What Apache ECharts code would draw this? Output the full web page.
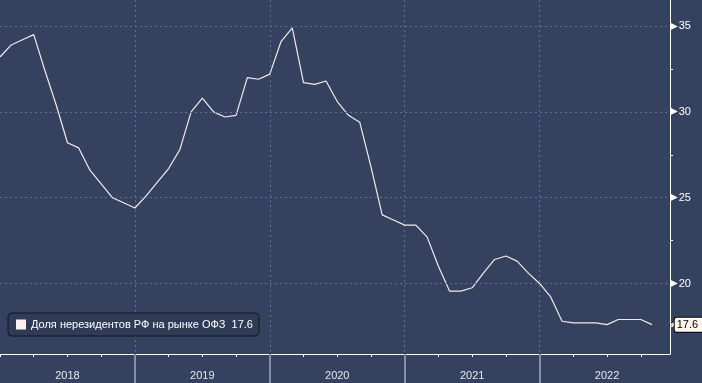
<!DOCTYPE html>
<html>
<head>
<meta charset="utf-8">
<script src="https://cdn.jsdelivr.net/npm/echarts@6/dist/echarts.min.js"></script>
<style>
html,body{margin:0;padding:0;background:#34425f;}
#c{width:702px;height:383px;}
</style>
</head>
<body>
<div id="c"></div>
<script>
// Monthly data, Jan 2018 .. Nov 2022 (month index 0 = Jan 2018)
var months = ['2018-01','2018-02','2018-03','2018-04','2018-05','2018-06','2018-07','2018-08','2018-09','2018-10','2018-11','2018-12',
'2019-01','2019-02','2019-03','2019-04','2019-05','2019-06','2019-07','2019-08','2019-09','2019-10','2019-11','2019-12',
'2020-01','2020-02','2020-03','2020-04','2020-05','2020-06','2020-07','2020-08','2020-09','2020-10','2020-11','2020-12',
'2021-01','2021-02','2021-03','2021-04','2021-05','2021-06','2021-07','2021-08','2021-09','2021-10','2021-11','2021-12',
'2022-01','2022-02','2022-03','2022-04','2022-05','2022-06','2022-07','2022-08','2022-09','2022-10','2022-11'];
var values = [33.2,33.9,34.2,34.5,32.4,30.4,28.2,27.9,26.6,25.8,25.0,24.7,
24.4,25.1,25.9,26.7,27.8,30.0,30.8,30.0,29.7,29.8,32.0,31.9,
32.2,34.1,34.9,31.7,31.6,31.8,30.6,29.8,29.4,26.8,24.0,23.7,
23.4,23.4,22.7,21.0,19.55,19.55,19.75,20.6,21.4,21.6,21.3,20.6,
20.0,19.2,17.8,17.7,17.7,17.7,17.6,17.9,17.9,17.9,17.6];
var seriesName = 'Доля нерезидентов РФ на рынке ОФЗ';
var yearLabels = ['2018','2019','2020','2021','2022'];
var yTicks = [20,25,30,35];
var yMinorTicks = [17.5,22.5,27.5,32.5];
var lastValue = 17.6;

var data = values.map(function(v,i){return [i,v];});
var nMonths = 12*yearLabels.length;
var quarterTicks = [], yearBounds = [], yearCenters = [];
for (var m=0; m<nMonths; m+=3){ if (m%12!==0 || m===0) quarterTicks.push(m); }
for (var y=1; y<yearLabels.length; y++) yearBounds.push(12*y);
for (var y=0; y<yearLabels.length; y++) yearCenters.push(12*y+6);

var FONT = 'Liberation Sans, Arial, sans-serif';
var YMIN = 15.89, YMAX = 36.52, XMIN = 0, XMAX = 59.6;
var GRID_COLOR = '#61708f';

var chart = echarts.init(document.getElementById('c'), null, {renderer:'canvas'});
chart.setOption({
  backgroundColor:'#34425f',
  animation:false,
  grid:{left:0, top:0, right:32, bottom:29, containLabel:false, outerBoundsMode:'none'},
  legend:{
    left:8, top:313,
    padding:[6,6,6,8],
    backgroundColor:'#303c57',
    borderColor:'#12151c', borderWidth:1, borderRadius:4,
    icon:'rect', itemWidth:10, itemHeight:10, itemGap:5,
    textStyle:{color:'#ffffff', fontSize:11, fontFamily:FONT},
    formatter:function(n){return n + '  ' + lastValue;},
    data:[{name:seriesName, itemStyle:{color:'#fff1ec'}}]
  },
  xAxis:[{
    type:'value', min:XMIN, max:XMAX, position:'bottom',
    axisLine:{show:true, onZero:false, lineStyle:{color:'#ffffff', width:1}},
    axisTick:{show:true, customValues:quarterTicks, length:3, lineStyle:{color:'#ffffff'}},
    axisLabel:{show:true, customValues:yearCenters, margin:16, color:'#e6e8ee', fontSize:11, fontFamily:FONT,
      formatter:function(v){return yearLabels[Math.round((v-6)/12)];}},
    splitLine:{show:false}
  },{
    type:'value', min:XMIN, max:XMAX, position:'bottom',
    axisLine:{show:false, onZero:false},
    axisTick:{show:true, customValues:yearBounds, length:29, lineStyle:{color:'#8790aa', width:2}},
    axisLabel:{show:false},
    splitLine:{show:true, lineStyle:{color:GRID_COLOR, type:[2,3], width:1}}
  }],
  yAxis:[{
    type:'value', position:'right', min:YMIN, max:YMAX,
    axisLine:{show:true, onZero:false, lineStyle:{color:'#ffffff', width:1}},
    axisTick:{show:true, customValues:yMinorTicks.concat(yTicks), length:3, lineStyle:{color:'#ffffff'}},
    axisLabel:{show:true, customValues:yTicks.concat([lastValue]), margin:0, color:'#ffffff', fontSize:11, fontFamily:FONT,
      formatter:function(v){
        if (Math.abs(v - lastValue) < 1e-6) return '{p|◀}{b|' + v.toFixed(1) + '}';
        return '{t|▶}{n|' + v + '}';
      },
      rich:{
        t:{fontSize:10, fontFamily:'DejaVu Sans', color:'#ffffff', padding:[0,1,0,0]},
        n:{fontSize:11, fontFamily:FONT, color:'#ffffff'},
        p:{fontSize:10, fontFamily:'DejaVu Sans', color:'#fff8ee', padding:[0,-3,0,0]},
        b:{color:'#000000', fontSize:11, fontFamily:FONT, backgroundColor:'#fff8ee', borderColor:'#000000', borderWidth:1, borderRadius:2, padding:[2,6,1,2]}
      }},
    splitLine:{show:false}
  }],
  series:[{
    name:seriesName, type:'line', xAxisIndex:0, yAxisIndex:0,
    data:data, showSymbol:false, symbol:'none',
    lineStyle:{color:'#f2eaea', width:1.2},
    itemStyle:{color:'#f2eaea'},
    markLine:{
      silent:true, symbol:['none','none'], label:{show:false},
      lineStyle:{color:GRID_COLOR, type:[2,3], width:1},
      data:yTicks.map(function(v){return {yAxis:v};})
    }
  }]
});
</script>
</body>
</html>
